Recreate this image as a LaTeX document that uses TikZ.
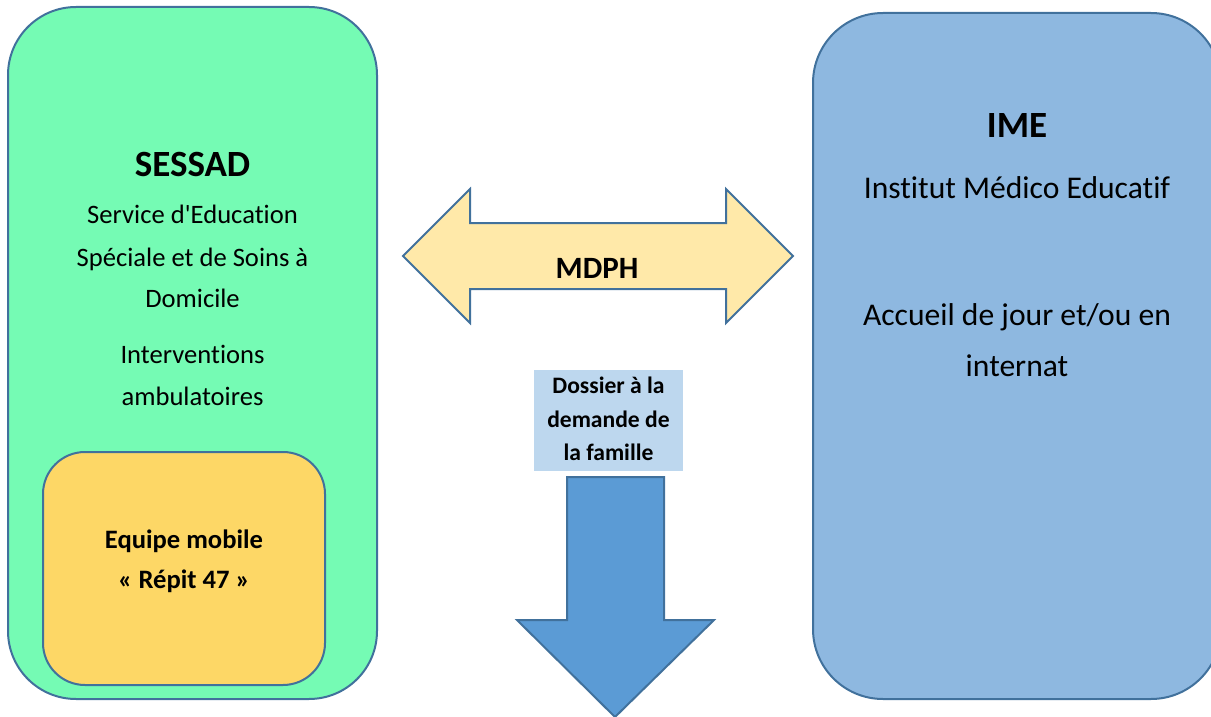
\documentclass[tikz,border=0pt]{standalone}
\usepackage{fontspec}
\setmainfont{Carlito}[Ligatures={TeX,NoCommon}]
\definecolor{sessadgreen}{HTML}{75FBB4}
\definecolor{imeblue}{HTML}{8EB8E0}
\definecolor{repitorange}{HTML}{FDD766}
\definecolor{mdphyellow}{HTML}{FFE9A9}
\definecolor{dossierblue}{HTML}{BDD7EE}
\definecolor{arrowblue}{HTML}{5B9BD5}
\definecolor{edgeblue}{HTML}{41719C}
\tikzset{
  panel/.style={draw=edgeblue, line width=2pt},
  linetext/.style={anchor=base, inner sep=0pt, text=black},
  body/.style={linetext, font=\fontsize{26.6}{30}\selectfont},
  bigbody/.style={linetext, font=\fontsize{31.6}{36}\selectfont},
  title/.style={linetext, font=\fontsize{37}{40}\selectfont\bfseries},
  repittext/.style={linetext, font=\fontsize{26.6}{30}\selectfont\bfseries},
  dossiertext/.style={linetext, font=\fontsize{23.6}{26}\selectfont\bfseries},
}
\begin{document}
\begin{tikzpicture}[x=1pt,y=-1pt]
\useasboundingbox (0,0) rectangle (1211,717);
% SESSAD panel
\path[panel, fill=sessadgreen, rounded corners=68pt] (8,7) rectangle (377,699);
\node[title] (sessadT) at (192.5,176) {SESSAD};
\node[body] (sessad1) at (192.5,223) {Service d\textquotesingle Education};
\node[body] (sessad2) at (192.5,266) {Spéciale et de Soins à};
\node[body] (sessad3) at (192.5,307) {Domicile};
\node[body] (sessad4) at (192.5,363) {Interventions};
\node[body] (sessad5) at (192.5,405) {ambulatoires};
% Repit box
\path[panel, fill=repitorange, rounded corners=42pt] (43,452) rectangle (325,685);
\node[repittext] (repit1) at (184,548) {Equipe mobile};
\node[repittext] (repit2) at (184,588) {« Répit 47 »};
% IME panel
\path[panel, fill=imeblue, rounded corners=70pt] (813,13) rectangle (1221,699);
\node[title] (imeT) at (1017,137) {IME};
\node[bigbody] (ime1) at (1017,198) {Institut Médico Educatif};
\node[bigbody] (ime2) at (1017,325) {Accueil de jour et/ou en};
\node[bigbody] (ime3) at (1017,376) {internat};
% MDPH double arrow
\path[draw=edgeblue, line width=2pt, fill=mdphyellow, line join=miter]
  (403,256) -- (470,189) -- (470,223) -- (726,223) -- (726,189) -- (793,256)
  -- (726,323) -- (726,289) -- (470,289) -- (470,323) -- cycle;
\node[linetext, font=\fontsize{31}{34}\selectfont\bfseries] (mdph) at (597,278) {MDPH};
% Dossier label
\path[fill=dossierblue] (534,370) rectangle (683,471);
\node[dossiertext] (dos1) at (608.5,393) {Dossier à la};
\node[dossiertext] (dos2) at (608.5,427) {demande de};
\node[dossiertext] (dos3) at (608.5,460) {la famille};
% Down arrow
\path[draw=edgeblue, line width=2pt, fill=arrowblue, line join=miter]
  (567,477) -- (664,477) -- (664,620) -- (714,620) -- (615,717) -- (517,620) -- (567,620) -- cycle;
\end{tikzpicture}
\end{document}
